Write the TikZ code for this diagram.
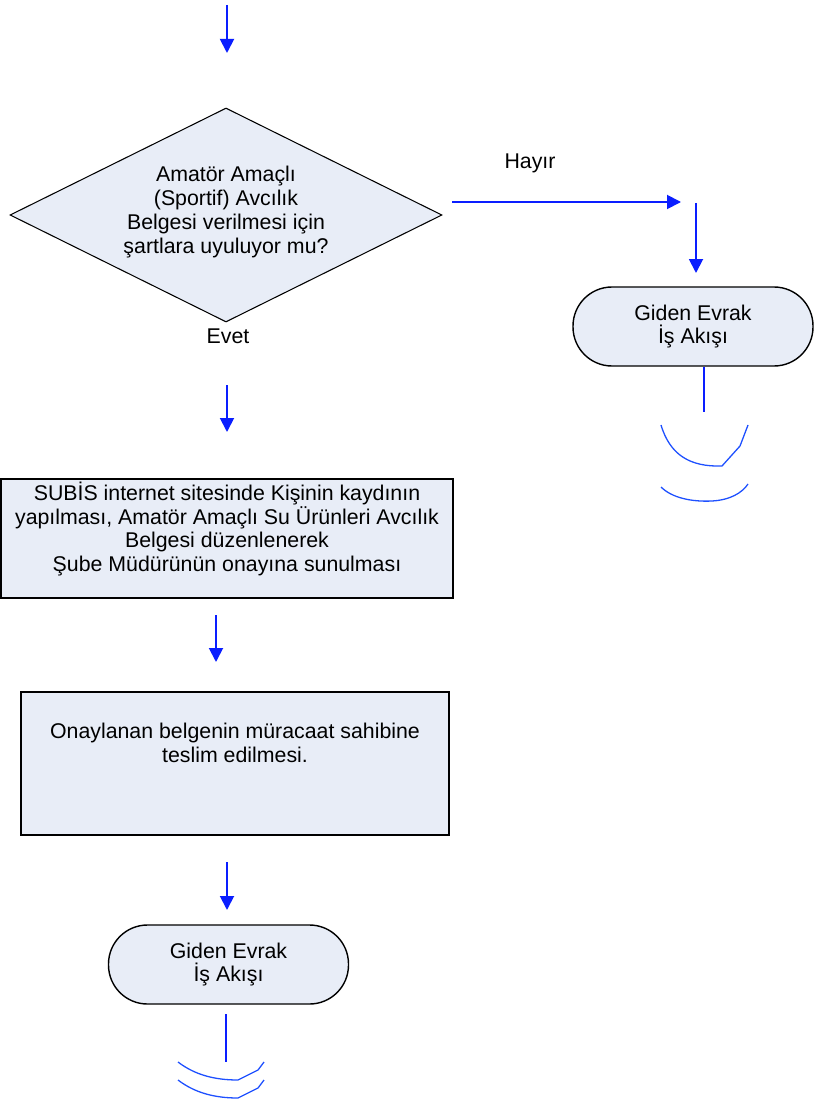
\documentclass[tikz,border=0pt]{standalone}
\usepackage{fontspec}
\setmainfont{Liberation Sans}
\usetikzlibrary{shapes,arrows.meta}
\definecolor{boxfill}{RGB}{232,237,247}
\definecolor{flowblue}{RGB}{10,30,255}
\definecolor{arcblue}{RGB}{30,80,255}

\tikzset{
    flow/.style={draw=flowblue, line width=1.6pt, -{Triangle[length=4.2mm,width=4.2mm]}},
    procbox/.style={draw, line width=0.9pt, fill=boxfill, rectangle, align=center, inner sep=0pt},
    endbox/.style={draw, line width=1.2pt, fill=boxfill, rectangle, rounded corners=1.17cm, align=center,
        minimum width=240*0.03cm, minimum height=79*0.03cm, inner sep=0pt},
    askbox/.style={draw, line width=0.9pt, fill=boxfill, diamond, align=center, inner sep=0pt,
        minimum width=432*0.03cm, minimum height=214*0.03cm},
    txt/.style={font=\fontsize{18.2}{20.4}\selectfont}
}

\begin{document}
\begin{tikzpicture}[x=0.03cm,y=-0.03cm,every node/.style={txt}]
    \useasboundingbox (0,0) rectangle (814,1100);

    % Decision
    \node [askbox] (ask) at (226,215) {};
    \node [align=center] (asktext) at (226,212) {Amatör Amaçlı\\(Sportif) Avcılık\\Belgesi verilmesi için\\şartlara uyuluyor mu?};
    \node (evet) at (228,336) {Evet};
    \node (hayir) at (530,163) {Hayır};

    % Process boxes
    \node [procbox, minimum width=452*0.03cm, minimum height=119*0.03cm] (kayit) at (227,538.5) {};
    \node [align=center] (kayittext) at (227,529) {SUBİS internet sitesinde Kişinin kaydının\\yapılması, Amatör Amaçlı Su Ürünleri Avcılık\\Belgesi düzenlenerek\\ Şube Müdürünün onayına sunulması};
    \node [procbox, minimum width=428*0.03cm, minimum height=143*0.03cm] (teslim) at (235,763.5) {};
    \node [align=center] (teslimtext) at (235,743) {Onaylanan belgenin müracaat sahibine\\teslim edilmesi.};

    % Terminals
    \node [endbox] (gidenA) at (693,326.5) {Giden Evrak\\İş Akışı};
    \node [endbox] (gidenB) at (228.5,964.5) {Giden Evrak\\İş Akışı};

    % Free ends of the arrows
    \coordinate (t0) at (227,5);    \coordinate (t1) at (227,53);
    \coordinate (h0) at (452,202);  \coordinate (h1) at (681,202);
    \coordinate (r0) at (696,203);  \coordinate (r1) at (696,273);
    \coordinate (e0) at (227,385);  \coordinate (e1) at (227,432);
    \coordinate (k0) at (216,615);  \coordinate (k1) at (216,662);
    \coordinate (s0) at (227,862);  \coordinate (s1) at (227,910);
    \coordinate (a0) at (704,367);  \coordinate (a1) at (704,412);
    \coordinate (b0) at (226,1014); \coordinate (b1) at (226,1062);

    % Draw the arrows
    \draw [flow] (t0) -- (t1);
    \draw [flow] (h0) -- (h1);
    \draw [flow] (r0) -- (r1);
    \draw [flow] (e0) -- (e1);
    \draw [flow] (k0) -- (k1);
    \draw [flow] (s0) -- (s1);
    \draw [draw=flowblue, line width=1.3pt] (a0) -- (a1);
    \draw [draw=flowblue, line width=1.3pt] (b0) -- (b1);

    % Draw the off-page marks
    \draw [arcblue, line width=1.1pt] (661,425) .. controls (670,455) and (690,467) .. (722,466) -- (740,446) -- (748,425);
    \draw [arcblue, line width=1.1pt] (661,487) .. controls (672,498) and (692,502) .. (712,501) .. controls (730,500) and (742,493) .. (748,484);
    \draw [arcblue, line width=1.1pt] (178,1062) .. controls (195,1075) and (215,1080) .. (238,1080) -- (258,1070) -- (264,1062);
    \draw [arcblue, line width=1.1pt] (178,1080) .. controls (195,1093) and (215,1098) .. (238,1098) -- (258,1088) -- (264,1080);

\end{tikzpicture}
\end{document}
